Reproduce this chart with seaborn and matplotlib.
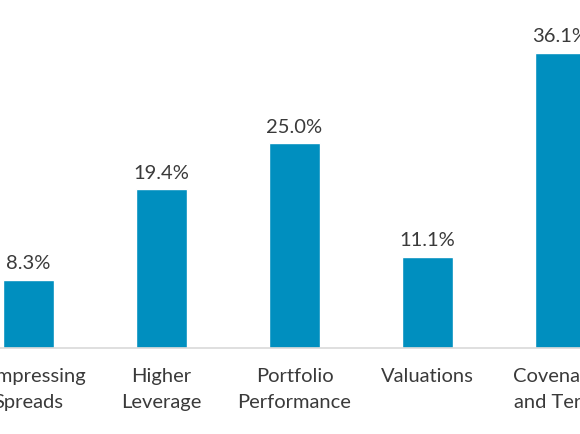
import matplotlib
matplotlib.use("Agg")
import matplotlib.pyplot as plt
import seaborn as sns
import pandas as pd

# data
categories = ["Compressing\nSpreads", "Higher\nLeverage", "Portfolio\nPerformance",
              "Valuations", "Covenants\nand Terms"]
shares = [8.3, 19.4, 25.0, 11.1, 36.1]

bar_color = "#008FBF"
text_color = "#3a3a3a"

sns.set_style("white")
plt.rcParams['font.family'] = ['Lato', 'DejaVu Sans']

df = pd.DataFrame({"category": categories, "share": shares})

fig = plt.figure(figsize=(5.8, 4.35), dpi=100)
ax = fig.add_axes([0, (435 - 348.5) / 435, 1, 348.5 / 435])

sns.barplot(data=df, x="category", y="share", color=bar_color, width=0.383,
            saturation=1, ax=ax)

ax.set_xlim(-0.214, 4.147)
ax.set_ylim(0, 42.65)

for container in ax.containers:
    ax.bar_label(container, labels=[f"{v:.1f}%" for v in shares],
                 padding=6, fontsize=14.5, color=text_color)

ax.set_xlabel("")
ax.set_ylabel("")
ax.set_yticks([])
ax.tick_params(axis="x", length=0, pad=14, labelsize=14.5, labelcolor=text_color)
for lbl in ax.get_xticklabels():
    lbl.set_linespacing(1.65)

for side in ["top", "left", "right"]:
    ax.spines[side].set_visible(False)
ax.spines["bottom"].set_color("#d9d9d9")
ax.spines["bottom"].set_linewidth(1.2)

fig.savefig("out.png", dpi=100)
plt.close(fig)
